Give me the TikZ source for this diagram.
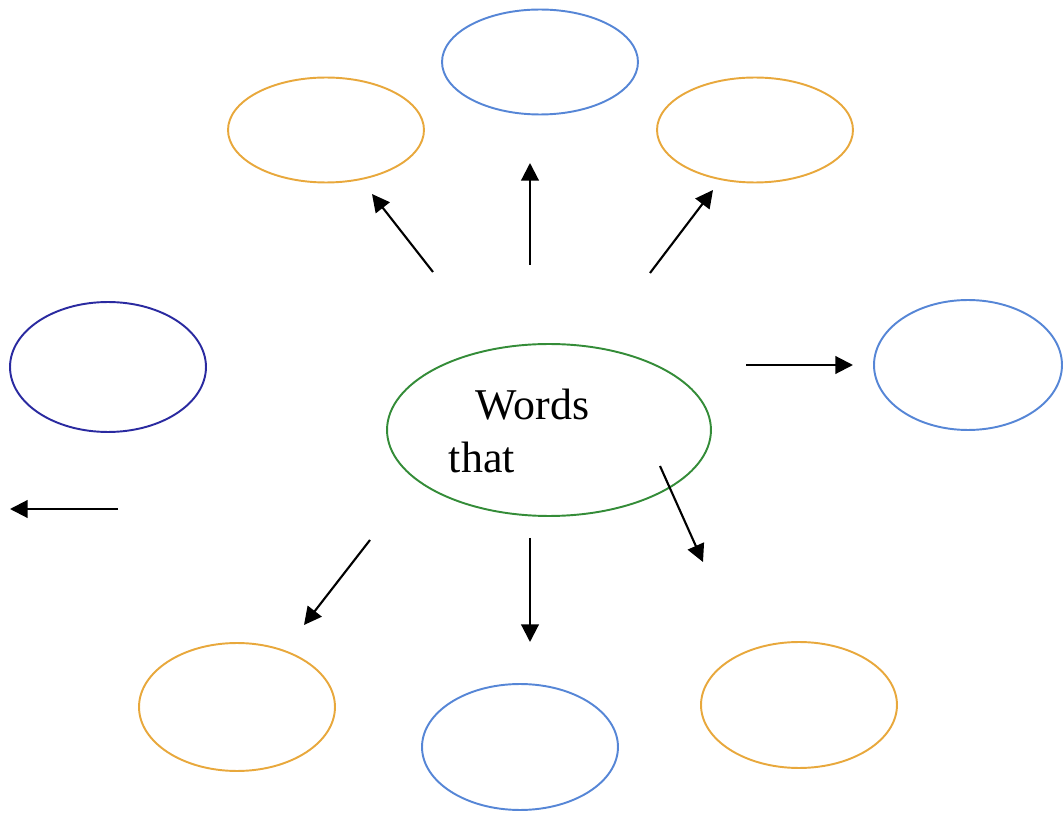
\documentclass[tikz,border=0pt]{standalone}
\usepackage{fontspec}
\setmainfont{Liberation Serif}
\usetikzlibrary{arrows.meta,shapes.geometric}

\definecolor{bubbleorange}{RGB}{232,168,60}
\definecolor{bubbleblue}{RGB}{86,134,214}
\definecolor{bubbledark}{RGB}{42,42,160}
\definecolor{bubblegreen}{RGB}{52,140,56}

\begin{document}
\begin{tikzpicture}[x=0.02cm,y=-0.02cm,line width=1.1pt,
                    >={Triangle[length=10pt,width=10pt]}]
  \tikzstyle{bubble}=[ellipse,draw,inner sep=0pt,minimum width=3.92cm,minimum height=2.1cm]
  \tikzstyle{pointer}=[->,black,line width=1.2pt]

  \useasboundingbox (0,0) rectangle (1063,814);

  \node[bubble,draw=bubblegreen,minimum width=6.48cm,minimum height=3.44cm] (main) at (549,430) {};
  \node[anchor=base west,inner sep=0pt,font=\fontsize{25}{30}\selectfont] (words) at (475,420) {Words};
  \node[anchor=base west,inner sep=0pt,font=\fontsize{25}{30}\selectfont] (that)  at (448,473) {that};

  \node[bubble,draw=bubbleorange] (tl) at (326,130) {};
  \node[bubble,draw=bubbleblue]   (t)  at (540,62)  {};
  \node[bubble,draw=bubbleorange] (tr) at (755,130) {};
  \node[bubble,draw=bubbledark,minimum height=2.6cm]  (l) at (108,367) {};
  \node[bubble,draw=bubbleblue,minimum width=3.76cm,minimum height=2.6cm] (r) at (968,365) {};
  \node[bubble,draw=bubbleorange,minimum height=2.56cm] (bl) at (237,707) {};
  \node[bubble,draw=bubbleblue,minimum height=2.52cm]   (b)  at (520,747) {};
  \node[bubble,draw=bubbleorange,minimum height=2.52cm] (br) at (799,705) {};

  % loose arrows round the middle
  \coordinate (tl0) at (433,272); \coordinate (tl1) at (372,194);
  \coordinate (t0)  at (530,265); \coordinate (t1)  at (530,163);
  \coordinate (tr0) at (650,273); \coordinate (tr1) at (713,190);
  \coordinate (r0)  at (746,365); \coordinate (r1)  at (853,365);
  \coordinate (l0)  at (118,509); \coordinate (l1)  at (10,509);
  \coordinate (bl0) at (370,540); \coordinate (bl1) at (304,625);
  \coordinate (b0)  at (530,538); \coordinate (b1)  at (530,642);
  \coordinate (br0) at (660,466); \coordinate (br1) at (703,562);

  \draw[pointer] (tl0) -- (tl1);
  \draw[pointer] (t0)  -- (t1);
  \draw[pointer] (tr0) -- (tr1);
  \draw[pointer] (r0)  -- (r1);
  \draw[pointer] (l0)  -- (l1);
  \draw[pointer] (bl0) -- (bl1);
  \draw[pointer] (b0)  -- (b1);
  \draw[pointer] (br0) -- (br1);
\end{tikzpicture}
\end{document}
